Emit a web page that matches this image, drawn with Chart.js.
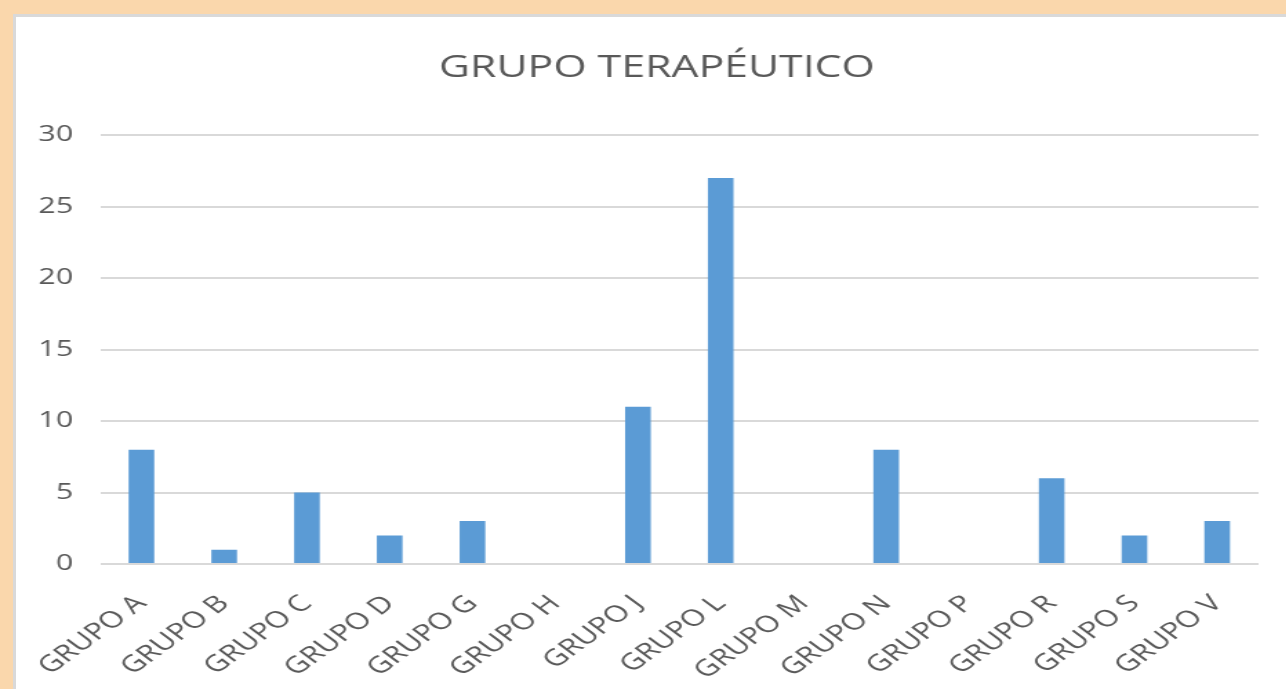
<!DOCTYPE html>
<html>
<head>
<meta charset="utf-8">
<script src="https://cdn.jsdelivr.net/npm/chart.js@4"></script>
<style>
  html, body { margin: 0; padding: 0; width: 1286px; height: 689px; overflow: hidden; background: #fad7ac; }
  #panel { position: absolute; left: 13px; top: 14px; width: 1300px; height: 700px; background: #fff; border: 3px solid #d9d9d9; }
  /* le graphique d'origine est étiré horizontalement */
  #wrap { position: absolute; left: 0; top: 0; width: 932px; height: 689px; transform: scaleX(1.38); transform-origin: 0 0; }
</style>
</head>
<body>
<div id="panel"></div>
<div id="wrap"><canvas id="myChart" width="932" height="689"></canvas></div>
<script>
// Données
const categories = ['GRUPO A', 'GRUPO B', 'GRUPO C', 'GRUPO D', 'GRUPO G', 'GRUPO H', 'GRUPO J', 'GRUPO L', 'GRUPO M', 'GRUPO N', 'GRUPO P', 'GRUPO R', 'GRUPO S', 'GRUPO V'];
const valeurs = [8, 1, 5, 2, 3, 0, 11, 27, 0, 8, 0, 6, 2, 3];
const yTicks = [0, 5, 10, 15, 20, 25, 30];
const titre = 'GRUPO TERAPÉUTICO';

const textColor = '#595959';
const gridColor = '#d9d9d9';
const fontFamily = "'Open Sans', 'Noto Sans', sans-serif";

var ctx = document.getElementById('myChart').getContext('2d');
var myChart = new Chart(ctx, {
    type: 'bar',
    data: {
        labels: categories,
        datasets: [{
            data: valeurs,
            backgroundColor: '#5b9bd5',
            borderWidth: 0,
            categoryPercentage: 1,
            barPercentage: 0.31
        }]
    },
    options: {
        responsive: false,
        animation: false,
        devicePixelRatio: 1,
        layout: { padding: { top: 0, right: 20, bottom: 0, left: 40 } },
        plugins: {
            legend: { display: false },
            tooltip: { enabled: false },
            title: {
                display: true,
                text: titre,
                color: textColor,
                font: { family: fontFamily, size: 31, weight: 'normal', lineHeight: 1.2 },
                padding: { top: 50, bottom: 48 }
            }
        },
        scales: {
            x: {
                grid: { display: false, drawTicks: false },
                border: { display: false },
                ticks: {
                    color: textColor,
                    font: { family: fontFamily, size: 23 },
                    minRotation: 45,
                    maxRotation: 45,
                    padding: 26,
                    autoSkip: false
                },
                afterFit: function (scale) { scale.height = 125; }
            },
            y: {
                min: 0,
                max: 30,
                afterBuildTicks: function (scale) {
                    scale.ticks = yTicks.map(v => ({ value: v }));
                },
                grid: { color: gridColor, lineWidth: 2, drawTicks: false },
                border: { display: false },
                // mirror + far : étiquettes alignées à droite, sans découpe
                ticks: {
                    color: textColor,
                    font: { family: fontFamily, size: 22 },
                    mirror: true,
                    crossAlign: 'far',
                    padding: -44.7
                },
                afterFit: function (scale) { scale.width = 32.5; }
            }
        }
    }
});
</script>
</body>
</html>
